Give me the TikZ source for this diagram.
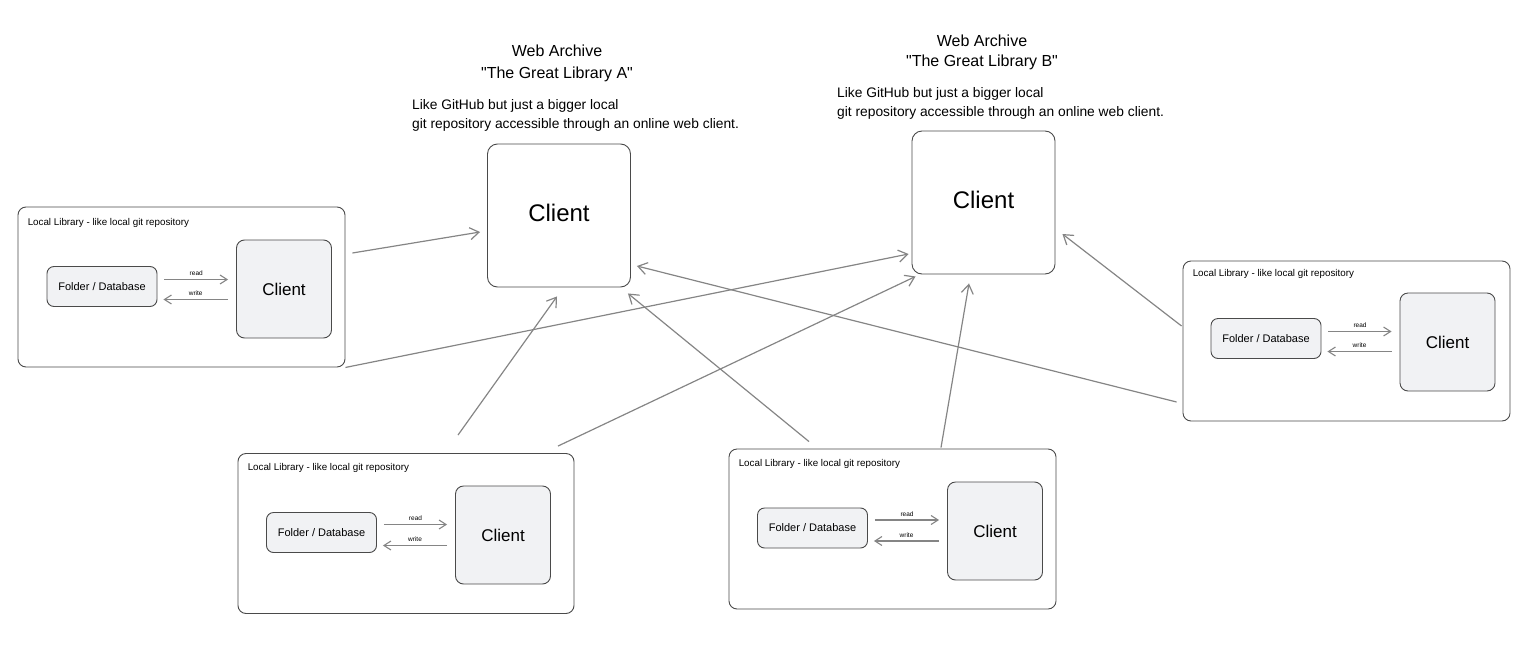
\documentclass[tikz,border=0pt]{standalone}
\usepackage{fontspec}
\setmainfont{Liberation Sans}
\usetikzlibrary{arrows.meta,calc}
\definecolor{edgegray}{HTML}{858585}
\definecolor{boxline}{HTML}{4A4A4A}
\definecolor{innerfill}{HTML}{F1F2F4}
\begin{document}
\begin{tikzpicture}[x=1pt,y=-1pt,
 outerbox/.style={draw=boxline, line width=0.9pt, rounded corners=8pt, minimum width=327pt, minimum height=160pt, inner sep=0pt},
 folderbox/.style={draw=boxline, fill=innerfill, line width=0.9pt, rounded corners=7pt, minimum width=110pt, minimum height=40pt, inner sep=0pt, font=\fontsize{11}{13}\selectfont},
 clientbox/.style={draw=boxline, fill=innerfill, line width=0.9pt, rounded corners=8pt, minimum width=95pt, minimum height=98pt, inner sep=0pt, font=\fontsize{17}{20}\selectfont},
 archivebox/.style={draw=boxline, line width=0.9pt, rounded corners=10pt, minimum width=143pt, minimum height=143pt, inner sep=0pt, font=\fontsize{24}{28}\selectfont},
 link/.style={draw=edgegray, line width=1.2pt, -{Straight Barb[length=9pt,width=12pt]}},
 rw/.style={draw=edgegray, line width=1.1pt, -{Straight Barb[length=7pt,width=9pt]}},
 rwlabel/.style={font=\fontsize{6.5}{8}\selectfont, inner sep=1pt},
 libtitle/.style={font=\fontsize{9.8}{12}\selectfont, anchor=west, inner sep=0pt},
 titletext/.style={font=\fontsize{16}{22}\selectfont, align=center, inner sep=0pt},
 desctext/.style={font=\fontsize{13.8}{19}\selectfont, align=left, anchor=north west, inner sep=0pt},
]
\useasboundingbox (0,0) rectangle (1529,648);

% ---------- archives ----------
\node[titletext] (ta) at (557,63) {Web Archive\\\textquotedbl The Great Library A\textquotedbl};
\node[desctext] (da) at (412,99) {Like GitHub but just a bigger local\\git repository accessible through an online web client.};
\node[archivebox] (ca) at (559,215.5) {\raisebox{5pt}{Client}};

\node[titletext, font=\fontsize{16}{20}\selectfont] (tb) at (982,52) {Web Archive\\\textquotedbl The Great Library B\textquotedbl};
\node[desctext] (db) at (837,87) {Like GitHub but just a bigger local\\git repository accessible through an online web client.};
\node[archivebox] (cb) at (983.5,202.5) {\raisebox{5pt}{Client}};

% ---------- local library 1 ----------
\node[outerbox] (ll1) at (181.5,287) {};
\node[libtitle] (lt1) at ($(ll1.north west)+(10,16)$) {Local Library - like local git repository};
\node[folderbox] (f1) at (102,286.5) {Folder / Database};
\node[clientbox] (c1) at (284,289) {Client};
\draw[rw] ($(f1.east)+(7,-7)$) -- ($(f1.east -| c1.west)+(-8,-7)$) node[midway, above=2pt, rwlabel] {read};
\draw[rw] ($(f1.east -| c1.west)+(-8,13)$) -- ($(f1.east)+(6,13)$) node[midway, above=2pt, rwlabel] {write};

% ---------- local library 2 ----------
\node[outerbox, minimum width=336pt] (ll2) at (406,533.5) {};
\node[libtitle] (lt2) at ($(ll2.north west)+(10,15)$) {Local Library - like local git repository};
\node[folderbox] (f2) at (321.5,532.5) {Folder / Database};
\node[clientbox] (c2) at (503,535) {Client};
\draw[rw] ($(f2.east)+(7,-8)$) -- ($(f2.east -| c2.west)+(-8,-8)$) node[midway, above=2pt, rwlabel] {read};
\draw[rw] ($(f2.east -| c2.west)+(-8,13)$) -- ($(f2.east)+(6,13)$) node[midway, above=2pt, rwlabel] {write};

% ---------- local library 3 ----------
\node[outerbox] (ll3) at (892.5,529) {};
\node[libtitle] (lt3) at ($(ll3.north west)+(10,15)$) {Local Library - like local git repository};
\node[folderbox] (f3) at (812.5,528) {Folder / Database};
\node[clientbox] (c3) at (995,531) {Client};
\draw[rw] ($(f3.east)+(7,-8)$) -- ($(f3.east -| c3.west)+(-8,-8)$) node[midway, above=2pt, rwlabel] {read};
\draw[rw] ($(f3.east -| c3.west)+(-8,13)$) -- ($(f3.east)+(6,13)$) node[midway, above=2pt, rwlabel] {write};

% ---------- local library 4 ----------
\node[outerbox] (ll4) at (1346.5,341) {};
\node[libtitle] (lt4) at ($(ll4.north west)+(10,13)$) {Local Library - like local git repository};
\node[folderbox] (f4) at (1266,338.5) {Folder / Database};
\node[clientbox] (c4) at (1447.5,342) {Client};
\draw[rw] ($(f4.east)+(7,-7)$) -- ($(f4.east -| c4.west)+(-8,-7)$) node[midway, above=2pt, rwlabel] {read};
\draw[rw] ($(f4.east -| c4.west)+(-8,13)$) -- ($(f4.east)+(6,13)$) node[midway, above=2pt, rwlabel] {write};

% ---------- connectors ----------
\draw[link] ($(ll1.east)+(7,-34)$) -- ($(ca.west)+(-7,16.5)$);
\draw[link] (ll1.south east) -- ($(cb.west)+(-3,51.5)$);
\draw[link] ($(ll2.north)+(52,-18)$) -- ($(ca.south)+(-2,9)$);
\draw[link] ($(ll2.north)+(152,-7)$) -- ($(cb.south west)+(4,2)$);
\draw[link] ($(ll3.north)+(-83.5,-7)$) -- ($(ca.south east)+(-3,6)$);
\draw[link] ($(ll3.north)+(48.5,-1)$) -- ($(cb.south)+(-14.5,9)$);
\draw[link] ($(ll4.west)+(-6,61)$) -- ($(ca.east)+(6,50.5)$);
\draw[link] ($(ll4.west)+(-1,-15)$) -- ($(cb.east)+(7,31.5)$);
\end{tikzpicture}
\end{document}
